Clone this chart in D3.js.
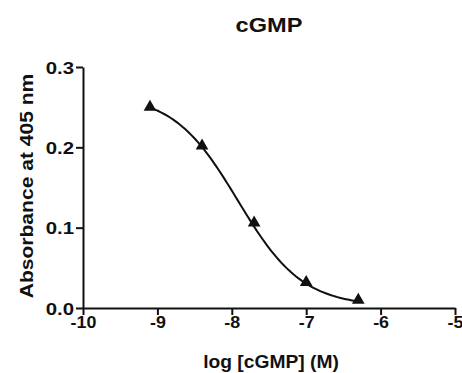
<!DOCTYPE html>
<html>
<head>
<meta charset="utf-8">
<script src="https://cdn.jsdelivr.net/npm/d3@7"></script>
<style>
  body { margin: 0; background: #fff; }
  text { font-family: "Liberation Sans", Arial, sans-serif; font-weight: bold; fill: #111; }
</style>
</head>
<body>
<svg id="chart" width="462" height="373"></svg>
<script>
// measured points
const logConc = [-9.1, -8.4, -7.7, -7.0, -6.3];
const absorbance = [0.250, 0.202, 0.106, 0.032, 0.010];
const xTicks = [-10, -9, -8, -7, -6, -5];
const yTicks = [0.0, 0.1, 0.2, 0.3];
// sigmoid fit: top, bottom, logEC50, hill
const fitTop = 0.266, fitBottom = 0.002, fitLogEC50 = -7.92, fitHill = 1.0;

const svg = d3.select('#chart');
const margin = {left: 83, right: 7, top: 67, bottom: 65};
const width = 462, height = 373;

const x = d3.scaleLinear().domain([-10, -5]).range([margin.left, width - margin.right]);
const y = d3.scaleLinear().domain([0, 0.3]).range([height - margin.bottom, margin.top]);

// the original lettering is a wide heavy grotesque, so stretch Liberation a bit
const stretch = (sel, sx) => sel.attr('transform', function() {
  const t = d3.select(this);
  const ax = +t.attr('x') || 0, ay = +t.attr('y') || 0;
  return `translate(${ax},${ay}) scale(${sx},1) translate(${-ax},${-ay})`;
});

const xAxis = svg.append('g')
  .attr('transform', `translate(0,${y(0)})`)
  .call(d3.axisBottom(x).tickValues(xTicks).tickSize(7).tickSizeOuter(0).tickFormat(d3.format('d')));
const yAxis = svg.append('g')
  .attr('transform', `translate(${x(-10)},0)`)
  .call(d3.axisLeft(y).tickValues(yTicks).tickSize(7).tickSizeOuter(0).tickFormat(d3.format('.1f')));

[xAxis, yAxis].forEach(a => {
  a.select('.domain').attr('stroke', '#111').attr('stroke-width', 2);
  a.selectAll('.tick line').attr('stroke', '#111').attr('stroke-width', 2);
  a.selectAll('.tick text').attr('font-size', 17).attr('font-family', '"Liberation Sans", Arial, sans-serif')
    .attr('font-weight', 'bold').attr('fill', '#111');
});
xAxis.selectAll('.tick text').attr('dy', null).attr('y', 20).text(d => d < 0 ? '-' + Math.abs(d) : d);
yAxis.selectAll('.tick text').attr('x', -9).attr('dy', '0.36em');
stretch(yAxis.selectAll('.tick text'), 1.2);
stretch(xAxis.selectAll('.tick text'), 1.05);

// fitted curve
const fit = v => fitBottom + (fitTop - fitBottom) / (1 + Math.pow(10, (v - fitLogEC50) * fitHill));
const curveX = d3.range(0, 101).map(i => logConc[0] + (logConc[logConc.length - 1] - logConc[0]) * i / 100);
svg.append('path')
  .datum(curveX)
  .attr('fill', 'none')
  .attr('stroke', '#111')
  .attr('stroke-width', 2)
  .attr('d', d3.line().x(d => x(d)).y(d => y(fit(d))));

// triangles
svg.selectAll('.pt')
  .data(logConc.map((v, i) => [v, absorbance[i]]))
  .join('path')
  .attr('class', 'pt')
  .attr('transform', d => `translate(${x(d[0])},${y(d[1])})`)
  .attr('d', d3.symbol(d3.symbolTriangle, 70))
  .attr('fill', '#111');

stretch(svg.append('text')
  .attr('x', 269).attr('y', 32)
  .attr('text-anchor', 'middle')
  .attr('font-size', 20)
  .text('cGMP'), 1.18);

stretch(svg.append('text')
  .attr('x', 271).attr('y', 368)
  .attr('text-anchor', 'middle')
  .attr('font-size', 17.5)
  .text('log [cGMP] (M)'), 1.1);

svg.append('g')
  .attr('transform', 'translate(33,186) rotate(-90)')
  .append('text')
  .attr('text-anchor', 'middle')
  .attr('transform', 'scale(1.17,1)')
  .attr('font-size', 18)
  .text('Absorbance at 405 nm');
</script>
</body>
</html>
